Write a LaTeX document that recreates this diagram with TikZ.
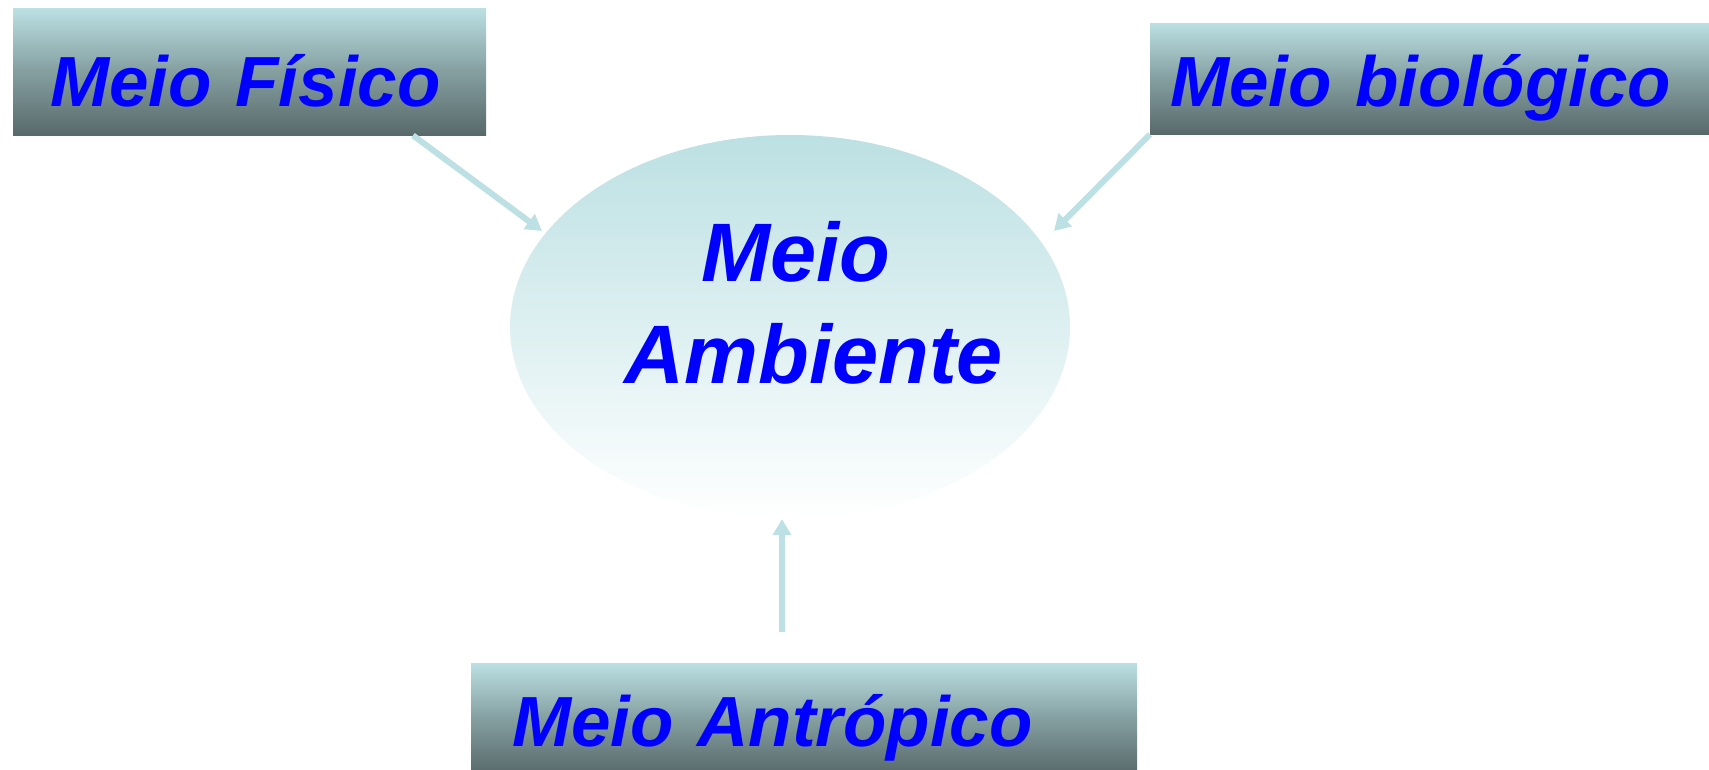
\documentclass[tikz,border=0pt]{standalone}
\usepackage{fontspec}
\setmainfont{Liberation Sans}
\usetikzlibrary{shapes.geometric, arrows.meta, calc}
\definecolor{boxTop}{RGB}{187,224,227}
\definecolor{boxBottom}{RGB}{88,105,106}
\definecolor{arrowBlue}{RGB}{188,224,227}
\definecolor{textBlue}{RGB}{0,0,255}

\begin{document}
\begin{tikzpicture}[x = 1pt, y = -1pt,
		meio/.style = {rectangle, anchor = north west, inner ysep = 0pt, align = left,
			top color = boxTop, bottom color = boxBottom, middle color = boxTop!45!boxBottom,
			text height = 83pt, text depth = 28pt, text = textBlue,
			font = \fontsize{71}{85}\selectfont\bfseries\itshape},
		seta/.style = {line width = 6pt, arrowBlue, -{Triangle[width = 18pt, length = 16pt]}}]
		\useasboundingbox (0, 0) rectangle (1709, 770);
		%%%%%%%%%%%%%
		\node[ellipse, minimum width = 560pt, minimum height = 384pt, inner sep = 0pt,
			top color = arrowBlue, bottom color = white] (amb) at (790, 327) {};
		\node[align = center, inner sep = 0pt, text = textBlue,
			font = \fontsize{83}{102}\selectfont\bfseries\itshape] (ambtxt) at (814, 302.5) {Meio\hspace*{36pt}\\Ambiente};
		%%%%%%%%%%%%%
		\node[meio, text width = 399pt, inner xsep = 37pt, text height = 98pt, text depth = 29pt] (fis) at (13, 8) {Meio Físico};
		\node[meio, text width = 530pt, inner xsep = 20pt] (bio) at (1150, 23) {Meio biológico};
		\node[meio, text width = 584pt, inner xsep = 41pt] (antr) at (471, 663) {Meio Antrópico};
		%%%%%%%%%%%%%
		\coordinate (c3) at ([xshift = 311pt, yshift = 31pt]antr.north west);
		\draw[seta] ([xshift = 400pt]fis.south west) -- ($(amb.center) + (-248, -96)$);
		\draw[seta] (bio.south west) -- ($(amb.center) + (264, -96)$);
		\draw[seta] (c3) -- (c3 |- amb.south);
\end{tikzpicture}
\end{document}
